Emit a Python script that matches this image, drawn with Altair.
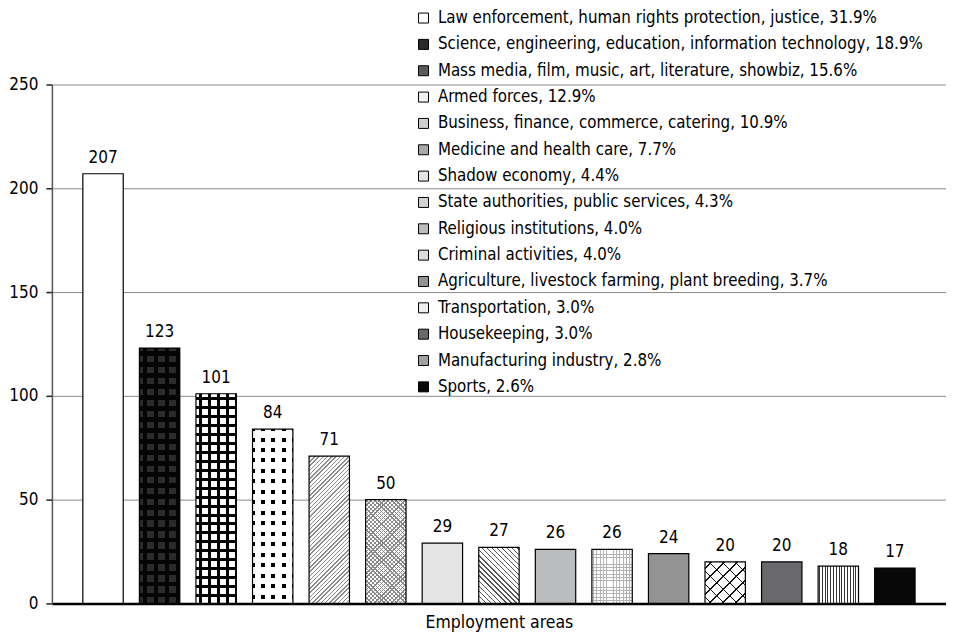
import math
import altair as alt
import pandas as pd

# ---------------- data ----------------
categories = [
    "Law enforcement, human rights protection, justice",
    "Science, engineering, education, information technology",
    "Mass media, film, music, art, literature, showbiz",
    "Armed forces",
    "Business, finance, commerce, catering",
    "Medicine and health care",
    "Shadow economy",
    "State authorities, public services",
    "Religious institutions",
    "Criminal activities",
    "Agriculture, livestock farming, plant breeding",
    "Transportation",
    "Housekeeping",
    "Manufacturing industry",
    "Sports",
]
counts = [207, 123, 101, 84, 71, 50, 29, 27, 26, 26, 24, 20, 20, 18, 17]
shares = ["31.9%", "18.9%", "15.6%", "12.9%", "10.9%", "7.7%", "4.4%", "4.3%",
          "4.0%", "4.0%", "3.7%", "3.0%", "3.0%", "2.8%", "2.6%"]
y_ticks = [0, 50, 100, 150, 200, 250]
x_title = "Employment areas"

legend_labels = [f"{c}, {s}" for c, s in zip(categories, shares)]
df = pd.DataFrame({"cat": categories, "count": counts, "legend": legend_labels})

# ---------------- style ----------------
FONT = "DejaVu Sans Condensed"
W, H = 896, 520
Y_MAX = 250
P_IN, P_OUT = 0.286, 0.547
N = len(categories)
STEP = W / (N - P_IN + 2 * P_OUT)
BW = STEP * (1 - P_IN)

base_colors = ["#ffffff", "#2a2a2a", "#5a5a5a", "#f2f2f2", "#cfcfcf", "#a8a8a8",
               "#e4e4e4", "#d2d2d2", "#bbbcbe", "#dcdcdc", "#939393", "#f0f0f0",
               "#69696d", "#a0a0a0", "#080808"]
CLEAR = "rgba(255,255,255,0)"


def stripes(direction, h, period, ink_w, ink, paper, w=BW):
    if direction == "v":
        L = w
        coords = dict(x1=0, y1=0, x2=1, y2=0)
    elif direction == "h":
        L = h
        coords = dict(x1=0, y1=0, x2=0, y2=1)
    else:
        k = (w + h) / (w * w + h * h)
        L = (w + h) / math.sqrt(2)
        if direction == "/":
            coords = dict(x1=0, y1=0, x2=w * k, y2=h * k)
        else:
            coords = dict(x1=0, y1=1, x2=w * k, y2=1 - h * k)
    stops = [{"offset": 0, "color": paper}]
    s = period / 2 - ink_w / 2
    while s < L:
        a = max(s, 0) / L
        b = min(s + ink_w, L) / L
        stops += [{"offset": a, "color": paper}, {"offset": a, "color": ink},
                  {"offset": b, "color": ink}, {"offset": b, "color": paper}]
        s += period
    stops.append({"offset": 1, "color": paper})
    return {"gradient": "linear", **coords, "stops": stops}


def bar_h(i):
    return counts[i] * H / Y_MAX


# pattern layers for each patterned bar (index -> list of fills, bottom to top)
patterns = {
    1: lambda h: ["#2c2a2a",
                  stripes("v", h, 11.0, 4.5, "#050505", CLEAR),
                  stripes("h", h, 11.0, 4.5, "#050505", CLEAR)],
    2: lambda h: ["#ffffff",
                  stripes("v", h, 9.0, 3.0, "#000000", CLEAR),
                  stripes("h", h, 9.0, 3.0, "#000000", CLEAR)],
    3: lambda h: ["#000000",
                  stripes("v", h, 10.5, 6.5, "#ffffff", CLEAR),
                  stripes("h", h, 10.5, 6.5, "#ffffff", CLEAR)],
    4: lambda h: ["#ffffff", stripes("/", h, 3.0, 1.0, "#8a8a8a", CLEAR)],
    5: lambda h: ["#ffffff",
                  stripes("/", h, 3.0, 1.0, "#8a8a8a", CLEAR),
                  stripes("\\", h, 3.0, 1.0, "#8a8a8a", CLEAR)],
    7: lambda h: ["#ffffff", stripes("\\", h, 3.6, 1.0, "#555555", CLEAR)],
    9: lambda h: ["#ffffff",
                  stripes("v", h, 3.3, 0.8, "#b4b4b4", CLEAR),
                  stripes("h", h, 3.3, 0.8, "#b4b4b4", CLEAR)],
    11: lambda h: ["#ffffff",
                   stripes("/", h, 9.2, 1.1, "#111111", CLEAR),
                   stripes("\\", h, 9.2, 1.1, "#111111", CLEAR)],
    13: lambda h: ["#ffffff", stripes("v", h, 2.8, 1.0, "#333333", CLEAR)],
}

x_enc = alt.X("cat:N", sort=categories,
              scale=alt.Scale(paddingInner=P_IN, paddingOuter=P_OUT),
              axis=alt.Axis(labels=False, ticks=False, domainColor="black",
                            domainWidth=2.5, title=x_title, titleFont=FONT,
                            titleFontSize=17.5, titleFontWeight="normal",
                            titleColor="black", titlePadding=10))
y_enc = alt.Y("count:Q", scale=alt.Scale(domain=[0, Y_MAX], nice=False),
              axis=alt.Axis(values=y_ticks, grid=True, gridColor="#8a8a8a",
                            gridWidth=1, domainColor="#555555", domainWidth=1.5,
                            tickColor="#222222", tickSize=6, tickWidth=1.5,
                            labelFont=FONT, labelFontSize=17, labelColor="black",
                            labelPadding=8, title=None))

base = alt.Chart(df).mark_bar(strokeWidth=0).encode(
    x=x_enc,
    y=y_enc,
    color=alt.Color("legend:N", sort=legend_labels,
                    scale=alt.Scale(domain=legend_labels, range=base_colors),
                    legend=alt.Legend(orient="none", legendX=364, legendY=-75,
                                      title=None, symbolType="square",
                                      symbolSize=100, symbolStrokeColor="black",
                                      symbolStrokeWidth=1, symbolOpacity=1,
                                      labelFont=FONT, labelFontSize=16.8,
                                      labelColor="black", labelLimit=800,
                                      labelOffset=6, rowPadding=8.4, padding=0)),
)

layers = [base]
for idx, make in patterns.items():
    for fill in make(bar_h(idx)):
        layers.append(
            alt.Chart(df).transform_filter(alt.datum.cat == categories[idx])
            .mark_bar(fill=fill, strokeWidth=0)
            .encode(x=alt.X("cat:N", sort=categories), y="count:Q")
        )

outline = alt.Chart(df).mark_bar(fill="transparent", stroke="black",
                                 strokeWidth=1.2).encode(
    x=alt.X("cat:N", sort=categories), y="count:Q")
labels = alt.Chart(df).mark_text(font=FONT, fontSize=17, color="black",
                                 baseline="alphabetic", dy=-11).encode(
    x=alt.X("cat:N", sort=categories), y="count:Q", text="count:Q")
layers += [outline, labels]

chart = alt.layer(*layers).properties(
    width=W, height=H,
    padding={"left": 0, "top": 1, "right": 0, "bottom": 0},
    background="white",
).configure_view(stroke=None)

chart.save("out.html", embed_options={"renderer": "svg", "actions": False})
